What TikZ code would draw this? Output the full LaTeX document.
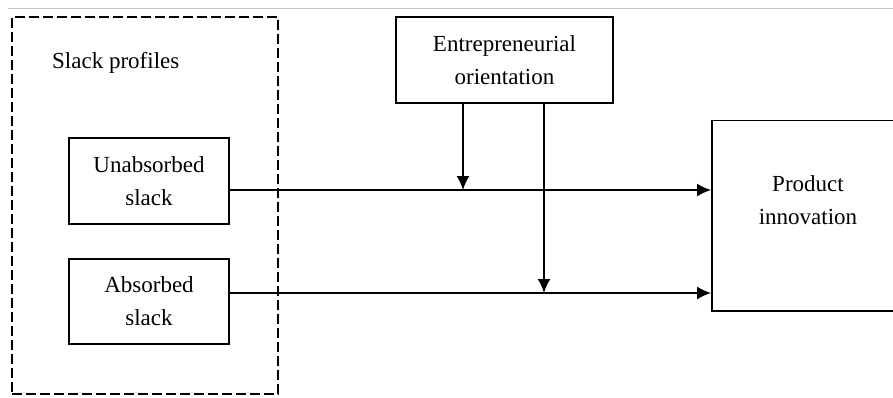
\documentclass[tikz,border=0pt]{standalone}
\usepackage{fontspec}
\setmainfont{Liberation Serif}
\usetikzlibrary{arrows.meta}

\tikzset{
    box/.style={draw, line width=1.8pt, inner sep=0pt, align=center,
                font=\fontsize{23}{33}\selectfont},
    txt/.style={align=center, inner sep=0pt, font=\fontsize{23}{33}\selectfont},
    flow/.style={line width=1.8pt, -{Latex[length=14pt,width=13pt]}},
}

\begin{document}
\begin{tikzpicture}[x=1pt,y=-1pt]
                        \clip (0,0) rectangle (893,397);
                        % thin rule along the top
                        \draw[gray!45, line width=1pt] (8,8) -- (893,8);
                        % slack profiles group
                        \node[draw, line width=1.8pt, dash pattern=on 10pt off 4pt,
                              minimum width=266pt, minimum height=377pt]
                              (frame) at (145,205.5) {};
                        \node[txt, anchor=base west] (slack) at (52,68) {Slack profiles};
                        \node[box, minimum width=160pt, minimum height=86pt]
                              (ua) at (149,181) {Unabsorbed\\slack};
                        \node[box, minimum width=160pt, minimum height=85pt]
                              (aa) at (149,301.5) {Absorbed\\slack};
                        % moderator and outcome
                        \node[box, minimum width=210pt, minimum height=190.5pt]
                              (pi) at (817,215.75) {};
                        \node[box, minimum width=217pt, minimum height=86pt]
                              (eo) at (504.5,60) {Entrepreneurial\\orientation};
                        \node[txt] (pitext) at (808,200) {Product\\innovation};
                        \coordinate (m1) at (463,190);
                        \coordinate (m2) at (544,293);
                        \draw[flow] (ua.east |- m1) -- (pi.west |- m1);
                        \draw[flow] (aa.east |- m2) -- (pi.west |- m2);
                        \draw[flow] (eo.south -| m1) -- (m1);
                        \draw[flow] (eo.south -| m2) -- (m2);
                    \end{tikzpicture}
\end{document}
